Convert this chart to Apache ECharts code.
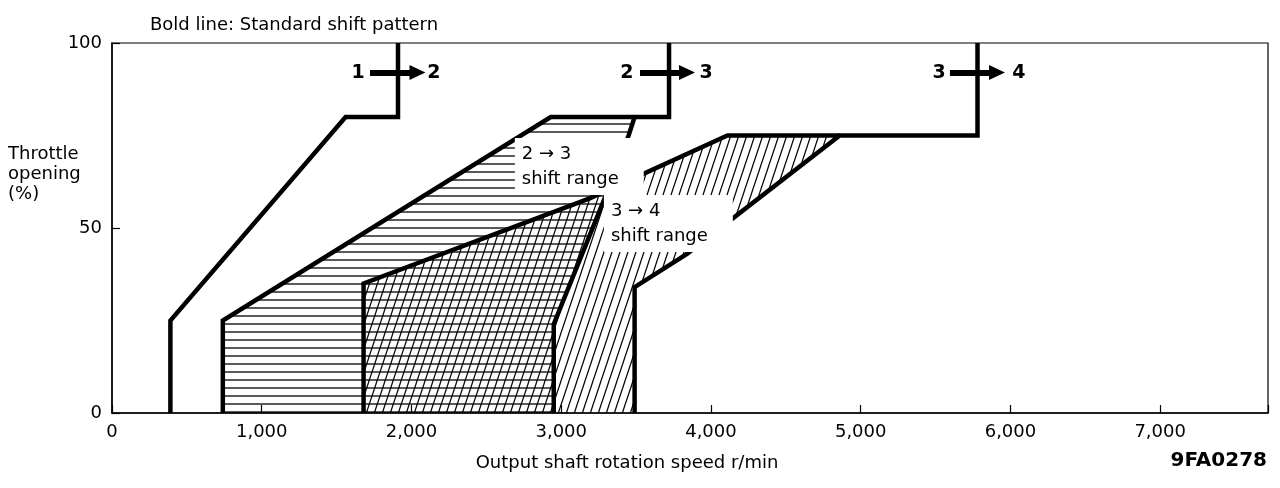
<!DOCTYPE html>
<html>
<head>
<meta charset="utf-8">
<script src="https://cdn.jsdelivr.net/npm/echarts@6/dist/echarts.min.js"></script>
<style>
  html, body { margin: 0; padding: 0; background: #fff; }
  #chart { width: 1280px; height: 488px; }
</style>
</head>
<body>
<div id="chart"></div>
<script>
// tick labels
const xTickLabels = ['0', '1,000', '2,000', '3,000', '4,000', '5,000', '6,000', '7,000'];
const yTickLabels = ['0', '50', '100'];

// standard shift lines [rpm, throttle %]
const std12 = [[1910, 100], [1910, 80], [1560, 80], [390, 25], [390, 0]];
const std23 = [[3720, 100], [3720, 80], [2930, 80], [740, 25], [740, 0]];
const std34 = [[5780, 100], [5780, 75], [4860, 75], [3840, 43], [3490, 34], [3490, 0]];

// shift ranges (outline of each zone)
const range23 = [[740, 0], [740, 25], [2930, 80], [3490, 80], [3450, 75], [3290, 58], [2950, 24], [2950, 0]];
const range34 = [[1680, 0], [1680, 35], [3190, 58], [4110, 75], [4860, 75], [3840, 43], [3490, 34], [3490, 0]];
const edge23 = [[3490, 80], [3450, 75], [3290, 58], [2950, 24], [2950, 0]];
const edge34 = [[1680, 0], [1680, 35], [3190, 58], [4110, 75], [4860, 75]];

// "n -> n+1" arrows near the top
const arrowY = 92;
const arrowFrom = [1723, 3526, 5596];
const arrowTo = [2040, 3840, 5910];
const gearLabels = [['1', 1643], ['2', 2150], ['2', 3439], ['3', 3967], ['3', 5523], ['4', 6057]];

// zone notes
const noteTexts = ['2 → 3\nshift range', '3 → 4\nshift range'];
const notePos = [[2690, 66.6], [3285, 51.2]];

const FONT = 'DejaVu Sans';

function hatchHorizontal() {
    const c = document.createElement('canvas');
    c.width = 8; c.height = 8;
    const g = c.getContext('2d');
    g.strokeStyle = '#000';
    g.lineWidth = 1.3;
    g.beginPath();
    g.moveTo(0, 4); g.lineTo(8, 4);
    g.stroke();
    return c;
}

function hatchDiagonal() {
    const c = document.createElement('canvas');
    c.width = 8; c.height = 24;
    const g = c.getContext('2d');
    g.strokeStyle = '#000';
    g.lineWidth = 1.2;
    g.beginPath();
    for (let k = -1; k <= 1; k++) {
        g.moveTo(-8 + 8 * k, 48);
        g.lineTo(16 + 8 * k, -24);
    }
    g.stroke();
    return c;
}

function zone(name, pts, pattern) {
    return {
        name: name,
        type: 'custom',
        silent: true,
        z: 1,
        data: [0],
        renderItem: function (params, api) {
            return {
                type: 'polygon',
                shape: { points: pts.map(p => api.coord(p)) },
                style: { fill: { image: pattern, repeat: 'repeat' }, stroke: null }
            };
        }
    };
}

function boldLine(name, pts) {
    return {
        name: name,
        type: 'line',
        silent: true,
        z: 3,
        data: pts,
        showSymbol: false,
        symbol: 'none',
        lineStyle: { color: '#000', width: 4.5, join: 'miter' },
        emphasis: { disabled: true }
    };
}

const chart = echarts.init(document.getElementById('chart'), null, { renderer: 'canvas' });

const option = {
    animation: false,
    backgroundColor: '#fff',
    title: {
        text: 'Bold line: Standard shift pattern',
        left: 145,
        top: 11,
        textStyle: { fontFamily: FONT, fontSize: 18, fontWeight: 'normal', color: '#000' }
    },
    grid: {
        left: 112, right: 12, top: 43, bottom: 75,
        show: true, borderColor: '#000', borderWidth: 1.2
    },
    xAxis: {
        type: 'value',
        min: 0, max: 7720, interval: 1000,
        name: 'Output shaft rotation speed r/min',
        nameLocation: 'middle',
        nameGap: 41,
        nameTextStyle: { fontFamily: FONT, fontSize: 18, color: '#000', padding: [0, 126, 0, 0] },
        axisLine: { show: true, lineStyle: { color: '#000', width: 1.5 } },
        axisTick: { show: true, inside: true, length: 8, lineStyle: { color: '#000', width: 1.2 } },
        splitLine: { show: false },
        axisLabel: {
            color: '#000', fontFamily: FONT, fontSize: 18, margin: 10,
            formatter: v => xTickLabels[v / 1000] || ''
        }
    },
    yAxis: {
        type: 'value',
        min: 0, max: 100, interval: 50,
        axisLine: { show: true, lineStyle: { color: '#000', width: 1.5 } },
        axisTick: { show: true, inside: true, length: 8, lineStyle: { color: '#000', width: 1.2 } },
        splitLine: { show: false },
        axisLabel: {
            color: '#000', fontFamily: FONT, fontSize: 18, margin: 10,
            formatter: v => yTickLabels[v / 50] || ''
        }
    },
    graphic: [
        {
            type: 'text', left: 8, top: 144,
            style: { text: 'Throttle\nopening\n(%)', font: '18px "DejaVu Sans"', fill: '#000', lineHeight: 20 }
        },
        {
            type: 'text', right: 13, top: 451,
            style: { text: '9FA0278', font: 'bold 20px "DejaVu Sans"', fill: '#000' }
        }
    ],
    series: [
        zone('2-3 range', range23, hatchHorizontal()),
        zone('3-4 range', range34, hatchDiagonal()),
        boldLine('1-2', std12),
        boldLine('2-3', std23),
        boldLine('3-4', std34),
        boldLine('2-3 edge', edge23),
        boldLine('3-4 edge', edge34),
        {
            name: 'notes',
            type: 'scatter',
            silent: true,
            z: 6,
            symbolSize: 0,
            itemStyle: { opacity: 1 },
            data: notePos.map((p, i) => ({ value: p, name: noteTexts[i] })),
            label: {
                show: true,
                position: 'right',
                distance: 0,
                opacity: 1,
                formatter: p => p.name,
                fontFamily: FONT, fontSize: 18, color: '#000',
                lineHeight: 25,
                backgroundColor: '#fff',
                padding: [3, 25, 4, 7]
            }
        },
        {
            name: 'gears',
            type: 'scatter',
            silent: true,
            z: 7,
            symbolSize: 0,
            itemStyle: { opacity: 1 },
            data: gearLabels.map(g => ({ value: [g[1], arrowY], name: g[0] })),
            label: {
                show: true,
                position: 'inside',
                opacity: 1,
                formatter: p => p.name,
                fontFamily: FONT, fontSize: 19, fontWeight: 'bold', color: '#000'
            },
            markLine: {
                silent: true,
                symbol: ['none', 'triangle'],
                symbolSize: [15, 16],
                label: { show: false },
                lineStyle: { color: '#000', width: 6, type: 'solid' },
                emphasis: { disabled: true },
                data: arrowFrom.map((x, i) => [
                    { coord: [x, arrowY] },
                    { coord: [arrowTo[i], arrowY] }
                ])
            }
        }
    ]
};

chart.setOption(option);
</script>
</body>
</html>
